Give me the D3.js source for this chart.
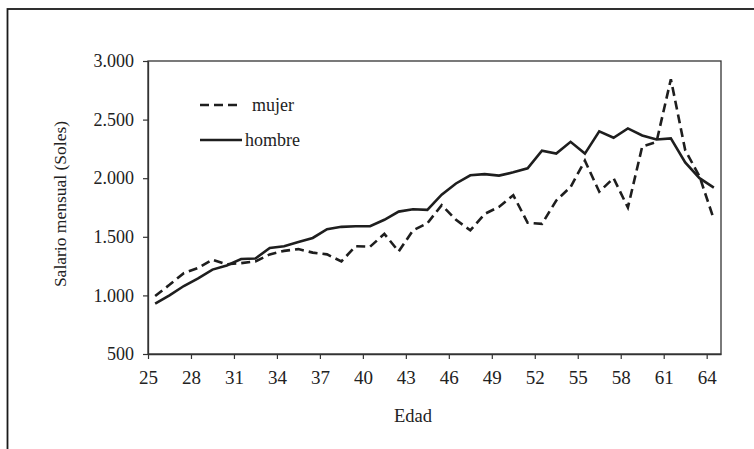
<!DOCTYPE html>
<html>
<head>
<meta charset="utf-8">
<script src="https://cdn.jsdelivr.net/npm/d3@7"></script>
<style>
  html, body { margin: 0; padding: 0; background: #fff; }
  svg { display: block; }
  text { font-family: "Liberation Serif", "DejaVu Serif", serif; fill: #222; }
</style>
</head>
<body>
<svg width="754" height="449"></svg>
<script>
const width = 754;
const height = 449;

// datos: edad y salario mensual
const edades = d3.range(25, 65);
const mujer = [995, 1090, 1190, 1235, 1305, 1265, 1275, 1290, 1350, 1380,
               1395, 1365, 1350, 1290, 1420, 1415, 1525, 1375, 1555, 1615,
               1770, 1645, 1555, 1695, 1755, 1855, 1620, 1610, 1810, 1925,
               2150, 1885, 2000, 1750, 2270, 2310, 2845, 2240, 2015, 1650];
const hombre = [930, 1000, 1080, 1145, 1220, 1255, 1310, 1315, 1405, 1420,
                1455, 1490, 1565, 1585, 1590, 1590, 1645, 1715, 1735, 1730,
                1860, 1955, 2025, 2035, 2022, 2050, 2085, 2235, 2210, 2310,
                2210, 2400, 2345, 2425, 2365, 2330, 2340, 2135, 2000, 1920];
const yTicks = [500, 1000, 1500, 2000, 2500, 3000];
const xTicks = d3.range(25, 65, 3);
const series = [
  {name: "mujer", values: mujer, dash: "9,5"},
  {name: "hombre", values: hombre, dash: null}
];

const margin = {top: 61, right: 33, bottom: 95, left: 148};

const svg = d3.select("svg");

// marco exterior
svg.append("rect")
    .attr("x", 7.5).attr("y", 9)
    .attr("width", 800).attr("height", 500)
    .attr("fill", "none")
    .attr("stroke", "#1a1a1a")
    .attr("stroke-width", 1.8);

const x = d3.scaleLinear()
    .domain([25, 65])
    .range([margin.left, width - margin.right]);

const y = d3.scaleLinear()
    .domain([500, 3000])
    .range([height - margin.bottom, margin.top]);

const fmt = d3.formatLocale({decimal: ",", thousands: ".", grouping: [3], currency: ["", ""]}).format(",");

// marco del area de trazado
svg.append("rect")
    .attr("x", x(25)).attr("y", y(3000))
    .attr("width", x(65) - x(25)).attr("height", y(500) - y(3000))
    .attr("fill", "none")
    .attr("stroke", "#333")
    .attr("stroke-width", 1.3);

// eje x
const xAxis = svg.append("g")
    .attr("transform", `translate(0,${y(500)})`)
    .call(d3.axisBottom(x).tickValues(xTicks).tickSize(5).tickPadding(12).tickSizeOuter(0));
xAxis.select(".domain").attr("stroke", "#333").attr("stroke-width", 1.3);
xAxis.selectAll(".tick line").attr("stroke", "#333").attr("stroke-width", 1.2);
xAxis.selectAll(".tick text")
    .attr("font-family", "Liberation Serif")
    .attr("font-size", 19)
    .attr("fill", "#222");

// eje y
const yAxis = svg.append("g")
    .attr("transform", `translate(${x(25)},0)`)
    .call(d3.axisLeft(y).tickValues(yTicks).tickFormat(fmt).tickSize(5).tickPadding(9).tickSizeOuter(0));
yAxis.select(".domain").attr("stroke", "#333").attr("stroke-width", 1.3);
yAxis.selectAll(".tick line").attr("stroke", "#333").attr("stroke-width", 1.2);
yAxis.selectAll(".tick text")
    .attr("font-family", "Liberation Serif")
    .attr("font-size", 18)
    .attr("fill", "#222");

// titulos de ejes
svg.append("text")
    .attr("x", 413).attr("y", 422)
    .attr("text-anchor", "middle")
    .attr("font-size", 18.5)
    .text("Edad");

svg.append("text")
    .attr("transform", "translate(66,204) rotate(-90)")
    .attr("text-anchor", "middle")
    .attr("font-size", 17.5)
    .text("Salario mensual (Soles)");

// lineas (puntos en el centro de cada categoria de edad)
const line = d3.line()
    .x((d, i) => x(edades[i] + 0.5))
    .y(d => y(d));

svg.selectAll("path.serie")
    .data(series)
    .enter()
    .append("path")
    .attr("class", "serie")
    .attr("d", d => line(d.values))
    .attr("fill", "none")
    .attr("stroke", "#1e1e1e")
    .attr("stroke-width", 2.6)
    .attr("stroke-linejoin", "miter")
    .attr("stroke-dasharray", d => d.dash);

// leyenda
const legend = svg.append("g");
const legY = [105, 140];
const legEnd = [237, 242];
const legText = [252, 245];
series.forEach((s, i) => {
  legend.append("line")
      .attr("x1", 200).attr("x2", legEnd[i])
      .attr("y1", legY[i]).attr("y2", legY[i])
      .attr("stroke", "#1e1e1e")
      .attr("stroke-width", 2.6)
      .attr("stroke-dasharray", s.dash);
  legend.append("text")
      .attr("x", legText[i]).attr("y", legY[i])
      .attr("dy", "0.32em")
      .attr("font-size", 18)
      .text(s.name);
});
</script>
</body>
</html>
